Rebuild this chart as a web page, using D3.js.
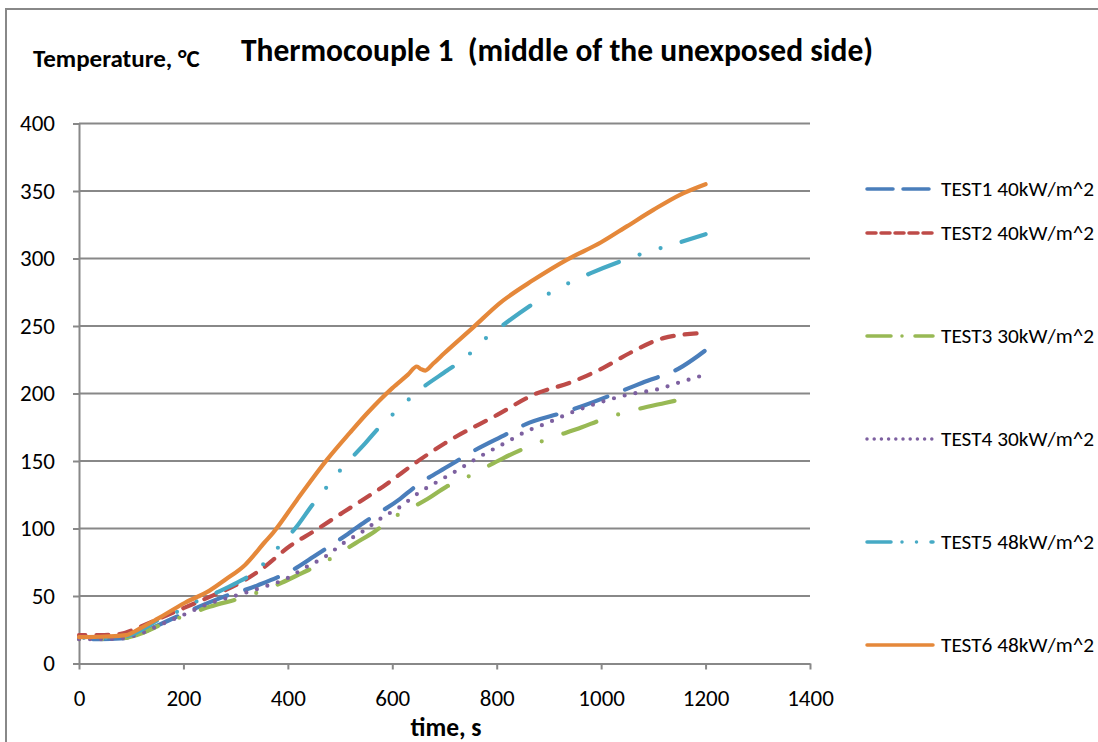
<!DOCTYPE html>
<html>
<head>
<meta charset="utf-8">
<script src="https://cdn.jsdelivr.net/npm/d3@7"></script>
<style>
  body { margin: 0; background: #fff; }
  svg { font-family: Calibri, Carlito, Lato, sans-serif; }
</style>
</head>
<body>
<svg id="chart" width="1098" height="742"></svg>
<script>
// values: [time s, temperature C]
var test1 = [[0,18],[40,18],[80,18.5],[110,21],[150,28],[200,37],[274,49],[343,58],[417,71],[449,79],[515,96],[548,105],[615,122],[644,131],[711,147],[749,156],[819,170],[854,177],[928,186],[966,191],[1040,202],[1079,208],[1151,219],[1186,228],[1200,232]];
var test2 = [[0,21],[40,21],[80,22],[110,26],[140,31],[200,41],[260,51],[300,58],[350,70],[404,87],[450,98],[506,112],[582,131],[653,151],[700,163],[800,184],[876,200],[940,208],[1004,219],[1055,230],[1119,241],[1200,245]];
var test3 = [[0,18],[40,18],[80,18.5],[110,21],[165,30],[200,35],[250,42],[315,49],[389,60],[427,67],[465,74],[529,89],[567,98],[602,108],[668,122],[704,131],[743,138],[812,152],[851,159],[889,165],[963,175],[1004,181],[1046,186],[1122,193],[1170,197]];
var test4 = [[0,18],[40,18],[80,18.5],[110,21],[152,28],[200,36],[247,44],[315,52],[356,57],[398,63],[433,71],[471,79],[506,89],[544,98],[580,108],[615,116],[649,126],[688,135],[724,143],[762,152],[819,164],[857,172],[896,178],[937,185],[979,191],[1020,196],[1062,200],[1107,203],[1148,208],[1200,214]];
var test5 = [[0,19],[40,19],[80,19.5],[110,23],[150,32],[197,40],[230,47],[266,53],[303,60],[341,69],[372,82],[420,103],[446,117],[473,130],[500,143],[548,163],[580,177],[611,188],[644,200],[705,217],[739,226],[770,238],[803,248],[864,265],[900,274],[939,282],[979,289],[1052,300],[1090,305],[1134,310],[1200,318]];
var test6 = [[0,19.5],[50,20],[90,21],[117,26],[150,33],[203,45],[250,54],[280,62],[318,73],[356,90],[372,97],[417,121],[475,151],[519,171],[551,185],[600,204],[630,214],[647,220],[655,218],[663,217],[678,222],[700,230],[755,249],[806,267],[870,284],[934,299],[1000,312],[1050,324],[1100,336],[1150,347],[1200,355]];

var seriesNames = ["TEST1 40kW/m^2", "TEST2 40kW/m^2", "TEST3 30kW/m^2", "TEST4 30kW/m^2", "TEST5 48kW/m^2", "TEST6 48kW/m^2"];
var xTicks = [0, 200, 400, 600, 800, 1000, 1200, 1400];
var yTicks = [0, 50, 100, 150, 200, 250, 300, 350, 400];

var colors = ["#4A7EBB", "#BE4B48", "#98B954", "#7D60A0", "#46AAC5", "#E5883A"];
var dashes = ["35,19", "12,11", "35,23,0,23", "0,11", "33,22,0,22,0,22", null];
// where in the dash pattern each line stops (so the last dash lands like the original)
var endPhase = [10, 10, 62, null, 24, null];
var legendDashes = ["26,10", "9,5", "24,11,0,13,0,0", "0,7.2", "24,11,0,14.5,0,14.5", null];
var legendY = [189, 233, 336, 439, 542, 645];

var data = [test1, test2, test3, test4, test5, test6];

var svg = d3.select("#chart");
var grey = "#888888";

// outer frame of the chart
svg.append("rect")
  .attr("x", 6).attr("y", 9)
  .attr("width", 1120).attr("height", 760)
  .attr("fill", "none")
  .attr("stroke", grey)
  .attr("stroke-width", 2);

var x = d3.scaleLinear().domain([0, 1400]).range([79, 810]);
var y = d3.scaleLinear().domain([0, 400]).range([663.5, 123.5]);

// grid lines
svg.append("g")
  .selectAll("line")
  .data(yTicks.slice(1))
  .enter().append("line")
  .attr("x1", x(0)).attr("x2", x(1400))
  .attr("y1", function(d) { return y(d); })
  .attr("y2", function(d) { return y(d); })
  .attr("stroke", grey)
  .attr("stroke-width", 2);

var xAxis = d3.axisBottom(x).tickValues(xTicks).tickFormat(d3.format("d"))
  .tickSize(6).tickPadding(20).tickSizeOuter(0);
var yAxis = d3.axisLeft(y).tickValues(yTicks).tickFormat(d3.format("d"))
  .tickSize(6).tickPadding(18).tickSizeOuter(0);

var gX = svg.append("g")
  .attr("transform", "translate(0," + y(0) + ")")
  .call(xAxis);
var gY = svg.append("g")
  .attr("transform", "translate(" + x(0) + ",0)")
  .call(yAxis);

[gX, gY].forEach(function(g) {
  g.selectAll("path, line").attr("stroke", grey).attr("stroke-width", 2);
  g.selectAll("text")
    .attr("fill", "#000")
    .style("font-size", "23px")
    .style("font-family", "Calibri, Carlito, Lato, sans-serif");
});

// series
var line = d3.line()
  .x(function(d) { return x(d[0]); })
  .y(function(d) { return y(d[1]); })
  .curve(d3.curveMonotoneX);

var paths = svg.append("g")
  .selectAll("path")
  .data(data)
  .enter().append("path")
  .attr("d", line)
  .attr("fill", "none")
  .attr("stroke", function(d, i) { return colors[i]; })
  .attr("stroke-width", 4.2)
  .attr("stroke-linecap", "round")
  .attr("stroke-linejoin", "round")
  .attr("stroke-dasharray", function(d, i) { return dashes[i]; });

paths.each(function(d, i) {
  if (endPhase[i] == null) return;
  var period = d3.sum(dashes[i].split(",").map(Number));
  var len = this.getTotalLength();
  var off = ((endPhase[i] - len) % period + period) % period;
  d3.select(this).attr("stroke-dashoffset", -off);
});

// legend
var legend = svg.append("g")
  .selectAll("g")
  .data(seriesNames)
  .enter().append("g")
  .attr("transform", function(d, i) { return "translate(0," + legendY[i] + ")"; });

legend.append("line")
  .attr("x1", 867).attr("x2", 933)
  .attr("y1", 0).attr("y2", 0)
  .attr("stroke", function(d, i) { return colors[i]; })
  .attr("stroke-width", 3.5)
  .attr("stroke-linecap", "round")
  .attr("stroke-dasharray", function(d, i) { return legendDashes[i]; });

legend.append("text")
  .attr("x", 941)
  .attr("y", 0)
  .attr("dy", "0.35em")
  .style("font-size", "21.3px")
  .text(function(d) { return d; });

// titles
svg.append("text")
  .attr("x", 557).attr("y", 61)
  .attr("text-anchor", "middle")
  .style("font-size", "31.5px")
  .style("font-weight", "bold")
  .style("white-space", "pre")
  .text("Thermocouple 1  (middle of the unexposed side)");

svg.append("text")
  .attr("x", 33).attr("y", 67)
  .style("font-size", "25px")
  .style("font-weight", "bold")
  .text("Temperature, \u00B0C");

svg.append("text")
  .attr("x", 446).attr("y", 736)
  .attr("text-anchor", "middle")
  .style("font-size", "25.5px")
  .style("font-weight", "bold")
  .text("time, s");
</script>
</body>
</html>
